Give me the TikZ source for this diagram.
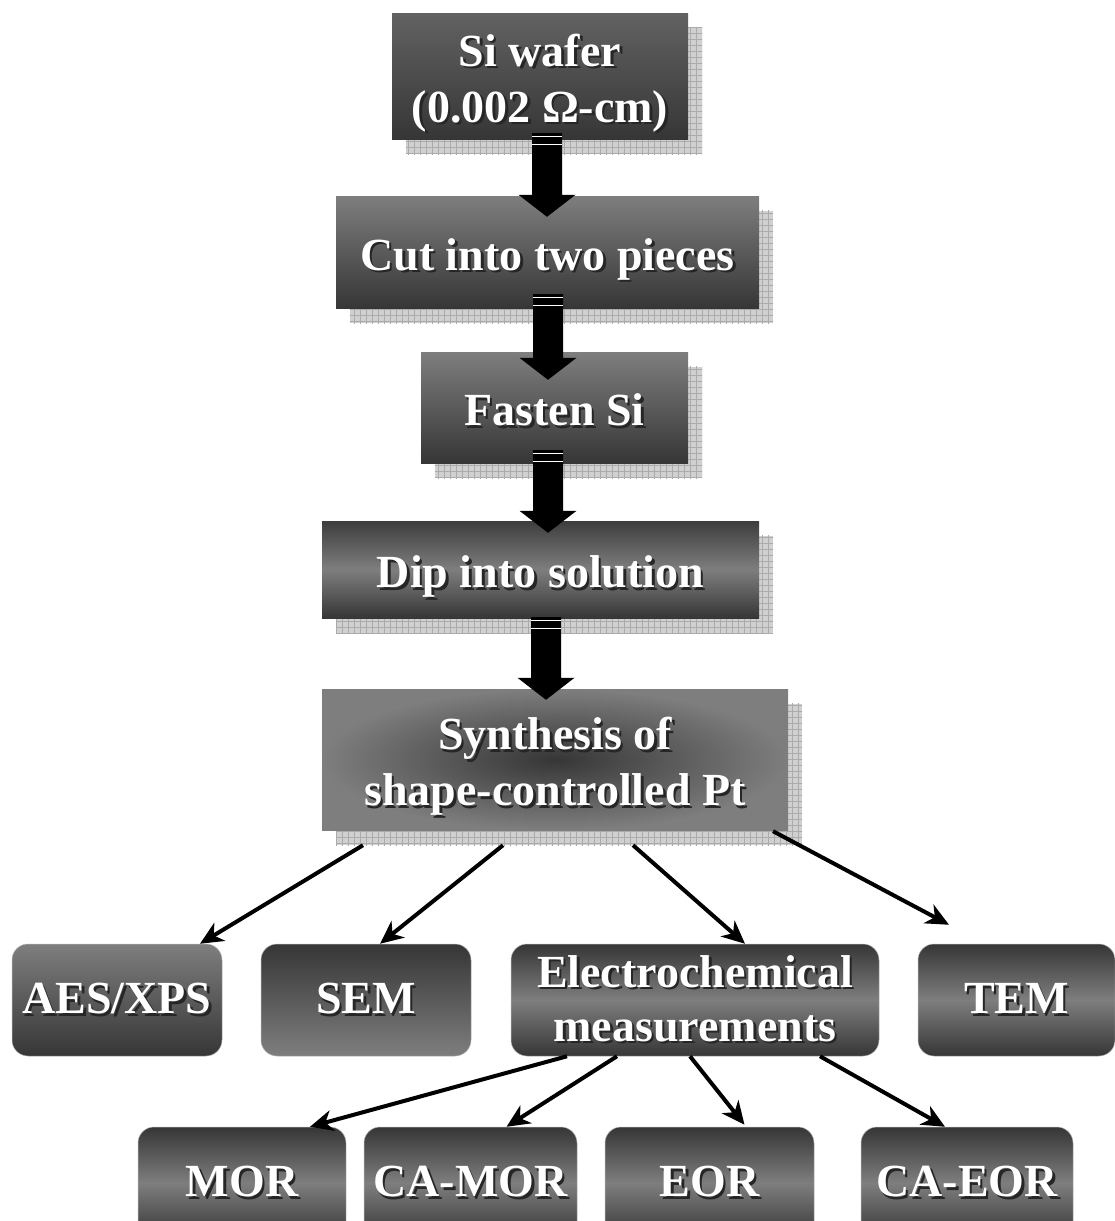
\documentclass[tikz,border=0pt]{standalone}
\usepackage{fontspec}
\setmainfont{Liberation Serif}
\usetikzlibrary{arrows.meta,patterns.meta,calc,backgrounds}

\definecolor{gl}{HTML}{7E7E7E}
\definecolor{gm}{HTML}{626262}
\definecolor{gd}{HTML}{363636}
\definecolor{shfill}{HTML}{D0D0D0}
\definecolor{shgrid}{HTML}{ABABAB}

\newcommand\sh[1]{\leavevmode\rlap{\kern2.5pt\raisebox{-2.5pt}{\textcolor{black!85}{#1}}}#1}
\newcommand\lowtext[1]{\raisebox{-7pt}[\height][\depth]{\begin{tabular}{@{}c@{}}#1\end{tabular}}}

\newcommand\blockarr[2]{%
  \fill[black] let \p1=#1, \p2=#2 in
    (\x1-15pt,\y1) -- (\x1+15pt,\y1) -- (\x1+15pt,\y2+22pt) -- (\x1+28.5pt,\y2+22pt)
    -- (\x1,\y2) -- (\x1-28.5pt,\y2+22pt) -- (\x1-15pt,\y2+22pt) -- cycle;
  \draw[white, line width=1.3pt] let \p1=#1 in
    (\x1-15pt,\y1-3.5pt) -- (\x1+15pt,\y1-3.5pt)
    (\x1-15pt,\y1-11.5pt) -- (\x1+15pt,\y1-11.5pt);
}

\tikzset{
  box/.style={rectangle, inner sep=0pt, text=white,
    font=\fontsize{46}{56}\selectfont\bfseries, align=center},
  rbox/.style={box, rounded corners=16pt, draw=black!30, line width=0.5pt},
  shTB/.style={top color=gl, bottom color=gd},
  shBT/.style={top color=gd, bottom color=gl},
  shMid/.style={top color=gd, bottom color=gd, middle color=gl},
  shRad/.style={inner color=gd, outer color=gl},
  shadowbox/.style={fill=shfill,
    postaction={pattern={Lines[distance=6pt,angle=0,line width=0.7pt]}, pattern color=shgrid},
    postaction={pattern={Lines[distance=6pt,angle=90,line width=0.7pt]}, pattern color=shgrid}},
  thinarrow/.style={line width=4pt, -{Stealth[length=23pt,width=21pt,inset=7pt]}},
}

\begin{document}
\begin{tikzpicture}[x=1pt,y=-1pt]
\useasboundingbox (0,0) rectangle (1115,1221);
\clip (0,0) rectangle (1115,1221);

% main chain
\node[box, top color=gm, bottom color=gd, minimum width=296pt, minimum height=126pt] (b1) at (540,76)
  {\lowtext{\sh{Si wafer}\\\sh{(0.002 Ω-cm)}}};
\node[box, shTB, minimum width=423pt, minimum height=112pt] (b2) at (547.5,252)
  {\lowtext{\sh{Cut into two pieces}}};
\node[box, shTB, minimum width=267pt, minimum height=111pt] (b3) at (554.5,407.5)
  {\lowtext{\sh{Fasten Si}}};
\node[box, top color=gd!90!gl, bottom color=gd, middle color=gl, minimum width=437pt, minimum height=97pt] (b4) at (540.5,569.5)
  {\lowtext{\sh{Dip into solution}}};
\node[box, shRad, minimum width=466pt, minimum height=141pt] (b5) at (555,759.5)
  {\lowtext{\sh{Synthesis of}\\\sh{shape-controlled Pt}}};

% analysis row
\node[rbox, shTB, minimum width=210pt, minimum height=112pt] (aes) at (117,1000) {\sh{AES/XPS}};
\node[rbox, shBT, minimum width=210pt, minimum height=112pt] (sem) at (366,1000) {\sh{SEM}};
\node[rbox, shMid, minimum width=368pt, minimum height=112pt, font=\fontsize{46}{54}\selectfont\bfseries] (el) at (695,1000)
  {\sh{Electrochemical}\\\sh{measurements}};
\node[rbox, shMid, minimum width=197pt, minimum height=112pt] (tem) at (1016.5,1000) {\sh{TEM}};

% measurement row
\node[rbox, shMid, minimum width=208pt, minimum height=112pt] (mor) at (242,1183) {\sh{MOR}};
\node[rbox, shMid, minimum width=213pt, minimum height=112pt] (camor) at (470.5,1183) {\sh{CA-MOR}};
\node[rbox, shMid, minimum width=209pt, minimum height=112pt] (eor) at (709.5,1183) {\sh{EOR}};
\node[rbox, shMid, minimum width=212pt, minimum height=112pt] (caeor) at (967,1183) {\sh{CA-EOR}};

% drop shadows
\begin{scope}[on background layer]
  \foreach \n in {b1,b2,b3,b4,b5}{
    \path[shadowbox] ([xshift=14pt,yshift=-15pt]\n.north west) rectangle ([xshift=14pt,yshift=-15pt]\n.south east);
  }
\end{scope}

% thin arrows
\draw[thinarrow] ([xshift=-192pt,yshift=-15pt]b5.south) -- ([xshift=83pt]aes.north);
\draw[thinarrow] ([xshift=-52pt,yshift=-15pt]b5.south) -- ([xshift=14pt]sem.north);
\draw[thinarrow] ([xshift=78pt,yshift=-15pt]b5.south) -- ([xshift=50pt]el.north);
\draw[thinarrow] ([xshift=218pt,yshift=-1pt]b5.south) -- ([xshift=-67.5pt,yshift=19pt]tem.north);
\draw[thinarrow] ([xshift=-128pt]el.south) -- ([xshift=68pt]mor.north);
\draw[thinarrow] ([xshift=-78pt]el.south) -- ([xshift=36pt]camor.north);
\draw[thinarrow] ([xshift=-5pt]el.south) -- ([xshift=35pt,yshift=2pt]eor.north);
\draw[thinarrow] ([xshift=125pt]el.south) -- ([xshift=-22pt]caeor.north);

% block arrows
\blockarr{([xshift=7pt,yshift=6pt]b1.south)}{([xshift=-0.5pt,yshift=-21pt]b2.north)}
\blockarr{([xshift=0.5pt,yshift=14pt]b2.south)}{([xshift=-6.5pt,yshift=-28pt]b3.north)}
\blockarr{([xshift=-6.5pt,yshift=13pt]b3.south)}{([xshift=7.5pt,yshift=-12pt]b4.north)}
\blockarr{([xshift=5.5pt,yshift=1pt]b4.south)}{([xshift=-9pt,yshift=-11pt]b5.north)}
\end{tikzpicture}
\end{document}
